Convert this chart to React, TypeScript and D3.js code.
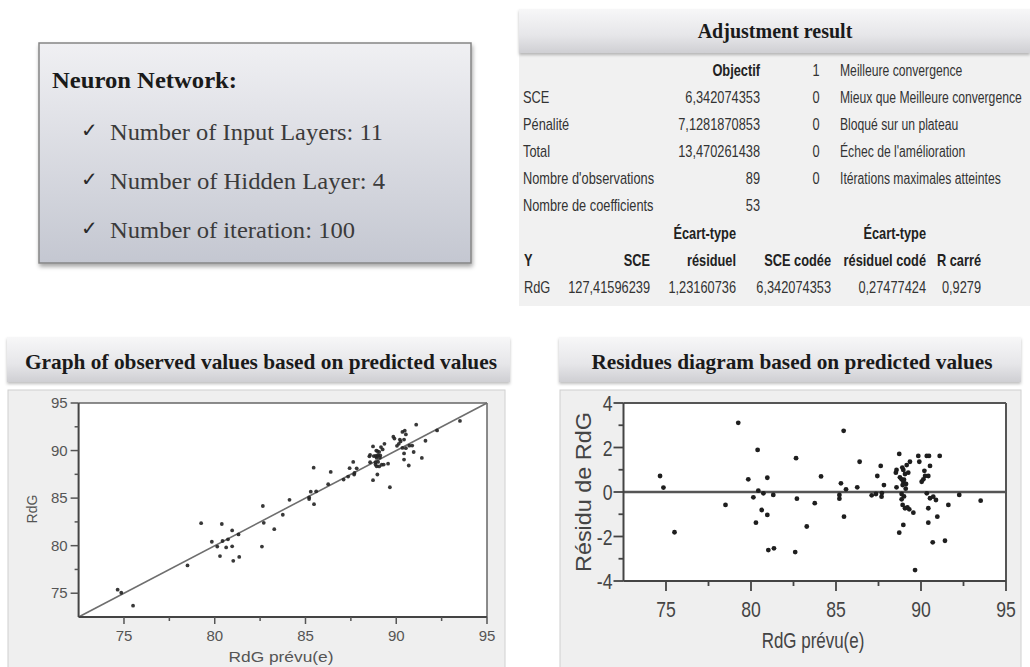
import React from "react";
import * as d3 from "d3";

// ---------- data ----------
const predicted = [
  74.65, 74.85, 75.5, 78.5, 79.25, 79.84, 80.14, 80.29, 80.39, 80.43,
  80.63, 80.73, 80.96, 80.96, 81.02, 81.31, 81.35, 82.65, 82.7, 82.6,
  83.28, 83.75, 84.12, 85.45, 85.29, 85.2, 85.2, 85.59, 85.47, 86.39,
  86.25, 87.1, 87.35, 87.68, 87.7, 87.43, 87.63, 87.82, 88.72, 89.35,
  89.16, 88.56, 88.52, 88.96, 89.06, 89.25, 88.76, 88.86, 88.96, 88.92,
  89.12, 88.56, 89.84, 90.34, 90.47, 91.1, 89.9, 90.53, 90.24, 90.14,
  90.04, 90.43, 88.86, 88.86, 88.92, 89.06, 89.2, 89.31, 89.55, 90.34,
  90.53, 90.72, 90.88, 90.43, 91.61, 92.25, 93.51, 88.96, 88.72, 90.43,
  90.96, 90.69, 91.41, 89.65, 89.0, 89.1, 88.9, 89.0, 90.2,
];
const observed = [
  75.37, 75.05, 73.69, 77.92, 82.36, 80.41, 79.9, 78.91, 82.28, 80.49,
  79.82, 80.67, 81.6, 79.93, 78.41, 81.18, 78.82, 84.17, 82.4, 79.9,
  81.73, 83.25, 84.82, 88.2, 85.68, 85.07, 84.9, 85.71, 84.36, 87.75,
  86.46, 86.95, 87.26, 87.47, 87.65, 88.15, 88.8, 88.13, 90.43, 90.71,
  90.37, 89.55, 89.39, 89.95, 89.87, 90.12, 89.42, 89.43, 89.42, 89.23,
  89.48, 88.77, 91.46, 91.96, 92.09, 92.72, 91.26, 91.7, 90.96, 90.71,
  90.5, 91.15, 88.77, 88.53, 88.34, 88.33, 88.51, 88.53, 88.62, 90.28,
  90.25, 90.51, 90.52, 89.7, 91.03, 92.12, 93.12, 87.48, 86.89, 89.05,
  89.85, 88.43, 89.22, 86.14, 89.55, 89.25, 90.0, 88.8, 91.15,
];
const residual = [
  0.72, 0.2, -1.81, -0.58, 3.11, 0.57, -0.24, -1.38, 1.89, 0.06,
  -0.81, -0.06, 0.64, -1.03, -2.61, -0.13, -2.53, 1.52, -0.3, -2.7,
  -1.55, -0.5, 0.7, 2.75, 0.39, -0.13, -0.3, 0.12, -1.11, 1.36,
  0.21, -0.15, -0.09, -0.21, -0.05, 0.72, 1.17, 0.31, 1.71, 1.36,
  1.21, 0.99, 0.87, 0.99, 0.81, 0.87, 0.66, 0.57, 0.46, 0.31,
  0.36, 0.21, 1.62, 1.62, 1.62, 1.62, 1.36, 1.17, 0.72, 0.57,
  0.46, 0.72, -0.09, -0.33, -0.58, -0.73, -0.69, -0.78, -0.93, -0.06,
  -0.28, -0.21, -0.36, -0.73, -0.58, -0.13, -0.39, -1.48, -1.83, -1.38,
  -1.11, -2.26, -2.19, -3.51, 0.55, 0.15, 1.1, -0.2, 0.95,
];

const majorTicks = [75, 80, 85, 90, 95];
const minorTicks = [77.5, 82.5, 87.5, 92.5];
const residMajor = [-4, -2, 0, 2, 4];
const residMinor = [-3, -1, 1, 3];

const networkTitle = "Neuron Network:";
const networkItems = [
  "Number of Input Layers: 11",
  "Number of Hidden Layer: 4",
  "Number of iteration: 100",
];

const tableTitle = "Adjustment result";
const objectiveHeader = "Objectif";
const objectiveLabels = ["SCE", "Pénalité", "Total", "Nombre d'observations", "Nombre de coefficients"];
const objectiveValues = ["6,342074353", "7,1281870853", "13,470261438", "89", "53"];
const statusCounts = ["1", "0", "0", "0", "0"];
const statusLabels = [
  "Meilleure convergence",
  "Mieux que Meilleure convergence",
  "Bloqué sur un plateau",
  "Échec de l'amélioration",
  "Itérations maximales atteintes",
];
const statsHeaderTop = ["", "", "Écart-type", "", "Écart-type", ""];
const statsHeader = ["Y", "SCE", "résiduel", "SCE codée", "résiduel codé", "R carré"];
const statsValues = ["RdG", "127,41596239", "1,23160736", "6,342074353", "0,27477424", "0,9279"];

const leftTitle = "Graph of observed values based on predicted values";
const rightTitle = "Residues diagram based on predicted values";

// ---------- helpers ----------
const SANS = "'Liberation Sans', Arial, sans-serif";
const SERIF = "'Liberation Serif', 'Times New Roman', serif";

function Narrow({ x, y, anchor = "start", size = 16, weight = 400, fill = "#333", sx = 0.8, children }: any) {
  return (
    <text
      transform={`translate(${x},${y}) scale(${sx},1)`}
      textAnchor={anchor}
      fontFamily={SANS}
      fontSize={size}
      fontWeight={weight}
      fill={fill}
    >
      {children}
    </text>
  );
}

export default function App() {
  // Left chart scales
  const lx = d3.scaleLinear().domain([72.5, 95]).range([78.6, 487]);
  const ly = d3.scaleLinear().domain([72.5, 95]).range([617, 403]);
  // Right chart scales
  const rx = d3.scaleLinear().domain([72.5, 95]).range([623.5, 1006]);
  const ry = d3.scaleLinear().domain([-4, 4]).range([581, 403]);

  const rowY = [70, 97, 124, 151, 178, 205, 233, 260, 287];
  const statCols = [524, 650, 736, 831, 926, 981];

  const diag = d3.line<number>().x((v) => lx(v)).y((v) => ly(v));

  return (
    <svg
      width={1030}
      height={667}
      viewBox="0 0 1030 667"
      style={{ position: "absolute", left: 0, top: 0, background: "#fff" }}
    >
      <defs>
        <linearGradient id="boxGrad" x1="0" y1="0" x2="0" y2="1">
          <stop offset="0" stopColor="#f0f0f3" />
          <stop offset="1" stopColor="#c4c7d1" />
        </linearGradient>
        <linearGradient id="barGrad" x1="0" y1="0" x2="0" y2="1">
          <stop offset="0" stopColor="#f7f7f8" />
          <stop offset="0.6" stopColor="#e6e6e9" />
          <stop offset="1" stopColor="#cfcfd3" />
        </linearGradient>
        <filter id="shadow" x="-5%" y="-5%" width="115%" height="120%">
          <feDropShadow dx="1" dy="3" stdDeviation="2" floodColor="#000" floodOpacity="0.35" />
        </filter>
        <filter id="softShadow" x="-5%" y="-10%" width="110%" height="140%">
          <feDropShadow dx="0" dy="2" stdDeviation="1.5" floodColor="#000" floodOpacity="0.25" />
        </filter>
      </defs>

      {/* ---------- Neuron network box ---------- */}
      <rect x={39} y={43} width={432} height={220} fill="url(#boxGrad)" stroke="#858585" strokeWidth={1.5} filter="url(#shadow)" />
      <text x={52} y={88} fontFamily={SERIF} fontWeight={700} fontSize={23} fill="#1a1a1a" textLength={185} lengthAdjust="spacingAndGlyphs">
        {networkTitle}
      </text>
      {networkItems.map((t, i) => {
        const widths = [273, 275, 245];
        const ys = [140, 189, 238];
        return (
          <g key={t}>
            <text x={81} y={ys[i] - 3} fontFamily="'DejaVu Sans', sans-serif" fontSize={20} fill="#2a2a2a">
              ✓
            </text>
            <text x={110} y={ys[i]} fontFamily={SERIF} fontSize={24} fill="#3b3b3b" textLength={widths[i]} lengthAdjust="spacingAndGlyphs">
              {t}
            </text>
          </g>
        );
      })}

      {/* ---------- Adjustment result table ---------- */}
      <rect x={519} y={53} width={511} height={253} fill="#f1f1f1" />
      <rect x={519} y={9} width={511} height={44} fill="url(#barGrad)" filter="url(#softShadow)" />
      <text x={775} y={38} textAnchor="middle" fontFamily={SERIF} fontWeight={700} fontSize={20} fill="#1a1a1a">
        {tableTitle}
      </text>
      <Narrow x={760} y={rowY[0] + 6} anchor="end" weight={700} fill="#222">
        {objectiveHeader}
      </Narrow>
      {objectiveLabels.map((l, i) => (
        <g key={l}>
          <Narrow x={523} y={rowY[i + 1] + 6}>{l}</Narrow>
          <Narrow x={760} y={rowY[i + 1] + 6} anchor="end">{objectiveValues[i]}</Narrow>
        </g>
      ))}
      {statusLabels.map((l, i) => (
        <g key={l}>
          <Narrow x={816} y={rowY[i] + 6} anchor="middle">{statusCounts[i]}</Narrow>
          <Narrow x={840} y={rowY[i] + 6} sx={0.76}>{l}</Narrow>
        </g>
      ))}
      {statsHeader.map((h, i) => (
        <g key={h}>
          {statsHeaderTop[i] && (
            <Narrow x={statCols[i]} y={rowY[6] + 6} anchor="end" weight={700} fill="#222">
              {statsHeaderTop[i]}
            </Narrow>
          )}
          <Narrow x={statCols[i]} y={rowY[7] + 6} anchor={i === 0 ? "start" : "end"} weight={700} fill="#222">
            {h}
          </Narrow>
          <Narrow x={statCols[i]} y={rowY[8] + 6} anchor={i === 0 ? "start" : "end"}>
            {statsValues[i]}
          </Narrow>
        </g>
      ))}

      {/* ---------- Left chart ---------- */}
      <rect x={7} y={337} width={503} height={45} fill="url(#barGrad)" filter="url(#softShadow)" />
      <text x={261} y={369} textAnchor="middle" fontFamily={SERIF} fontWeight={700} fontSize={21} fill="#1a1a1a" textLength={472} lengthAdjust="spacingAndGlyphs">
        {leftTitle}
      </text>
      <rect x={8} y={390} width={497} height={280} fill="#efefef" stroke="#d0d0d0" strokeWidth={1} />
      <rect x={lx(72.5)} y={ly(95)} width={lx(95) - lx(72.5)} height={ly(72.5) - ly(95)} fill="#fff" />
      <line x1={lx(72.5)} x2={lx(95)} y1={ly(95)} y2={ly(95)} stroke="#666" strokeWidth={1.5} />
      <line x1={lx(95)} x2={lx(95)} y1={ly(95)} y2={ly(72.5)} stroke="#666" strokeWidth={1.5} />
      <path d={diag([72.5, 95]) || ""} stroke="#6e6e6e" strokeWidth={1.6} fill="none" />
      {predicted.map((p, i) => (
        <circle key={i} cx={lx(p)} cy={ly(observed[i])} r={1.9} fill="#222" fillOpacity={0.9} />
      ))}
      <line x1={lx(72.5)} x2={lx(72.5)} y1={ly(95)} y2={ly(72.5)} stroke="#444" strokeWidth={2} />
      <line x1={lx(72.5)} x2={lx(95)} y1={ly(72.5)} y2={ly(72.5)} stroke="#444" strokeWidth={2} />
      {majorTicks.map((t) => (
        <g key={"lm" + t}>
          <line x1={lx(72.5) - 8} x2={lx(72.5)} y1={ly(t)} y2={ly(t)} stroke="#555" strokeWidth={1.5} />
          <text x={lx(72.5) - 11} y={ly(t) + 5} textAnchor="end" fontFamily={SANS} fontSize={15} fill="#555">
            {t}
          </text>
          <line x1={lx(t)} x2={lx(t)} y1={ly(72.5)} y2={ly(72.5) + 7} stroke="#555" strokeWidth={1.5} />
          <text x={lx(t)} y={641} textAnchor="middle" fontFamily={SANS} fontSize={15} fill="#555">
            {t}
          </text>
        </g>
      ))}
      {minorTicks.map((t) => (
        <g key={"ln" + t}>
          <line x1={lx(72.5) - 4} x2={lx(72.5)} y1={ly(t)} y2={ly(t)} stroke="#555" strokeWidth={1.5} />
          <line x1={lx(t)} x2={lx(t)} y1={ly(72.5)} y2={ly(72.5) + 4} stroke="#555" strokeWidth={1.5} />
        </g>
      ))}
      <text transform={`translate(37,509) rotate(-90)`} textAnchor="middle" fontFamily={SANS} fontSize={14} fill="#555">
        RdG
      </text>
      <text x={281} y={662} textAnchor="middle" fontFamily={SANS} fontSize={14} fill="#555" textLength={105} lengthAdjust="spacingAndGlyphs">
        RdG prévu(e)
      </text>

      {/* ---------- Right chart ---------- */}
      <rect x={559} y={337} width={462} height={45} fill="url(#barGrad)" filter="url(#softShadow)" />
      <text x={792} y={369} textAnchor="middle" fontFamily={SERIF} fontWeight={700} fontSize={21} fill="#1a1a1a" textLength={401} lengthAdjust="spacingAndGlyphs">
        {rightTitle}
      </text>
      <rect x={560} y={390} width={461} height={280} fill="#efefef" stroke="#d0d0d0" strokeWidth={1} />
      <rect x={rx(72.5)} y={ry(4)} width={rx(95) - rx(72.5)} height={ry(-4) - ry(4)} fill="#fff" />
      <line x1={rx(72.5)} x2={rx(95)} y1={ry(4)} y2={ry(4)} stroke="#555" strokeWidth={2} />
      <line x1={rx(95)} x2={rx(95)} y1={ry(4)} y2={ry(-4)} stroke="#555" strokeWidth={2} />
      <line x1={rx(72.5)} x2={rx(95)} y1={ry(0)} y2={ry(0)} stroke="#555" strokeWidth={2.5} />
      {predicted.map((p, i) => (
        <circle key={i} cx={rx(p)} cy={ry(residual[i])} r={2.4} fill="#1e1e1e" />
      ))}
      <line x1={rx(72.5)} x2={rx(72.5)} y1={ry(4)} y2={ry(-4)} stroke="#444" strokeWidth={2} />
      <line x1={rx(72.5)} x2={rx(95)} y1={ry(-4)} y2={ry(-4)} stroke="#444" strokeWidth={2} />
      {residMajor.map((t) => (
        <g key={"rm" + t}>
          <line x1={rx(72.5) - 10} x2={rx(72.5)} y1={ry(t)} y2={ry(t)} stroke="#444" strokeWidth={1.8} />
          <Narrow x={rx(72.5) - 11} y={ry(t) + 8} anchor="end" size={22} sx={0.8} fill="#444">
            {t}
          </Narrow>
        </g>
      ))}
      {residMinor.map((t) => (
        <line key={"rn" + t} x1={rx(72.5) - 5} x2={rx(72.5)} y1={ry(t)} y2={ry(t)} stroke="#444" strokeWidth={1.8} />
      ))}
      {majorTicks.map((t) => (
        <g key={"rxm" + t}>
          <line x1={rx(t)} x2={rx(t)} y1={ry(-4)} y2={ry(-4) + 10} stroke="#444" strokeWidth={1.8} />
          <Narrow x={rx(t)} y={617} anchor="middle" size={22} sx={0.8} fill="#444">
            {t}
          </Narrow>
        </g>
      ))}
      {minorTicks.map((t) => (
        <line key={"rxn" + t} x1={rx(t)} x2={rx(t)} y1={ry(-4)} y2={ry(-4) + 5} stroke="#444" strokeWidth={1.8} />
      ))}
      <text transform={`translate(591,492) rotate(-90)`} textAnchor="middle" fontFamily={SANS} fontSize={22} fill="#444" textLength={160} lengthAdjust="spacingAndGlyphs">
        Résidu de RdG
      </text>
      <Narrow x={813} y={648} anchor="middle" size={22} sx={0.77} fill="#444">
        RdG prévu(e)
      </Narrow>
    </svg>
  );
}
